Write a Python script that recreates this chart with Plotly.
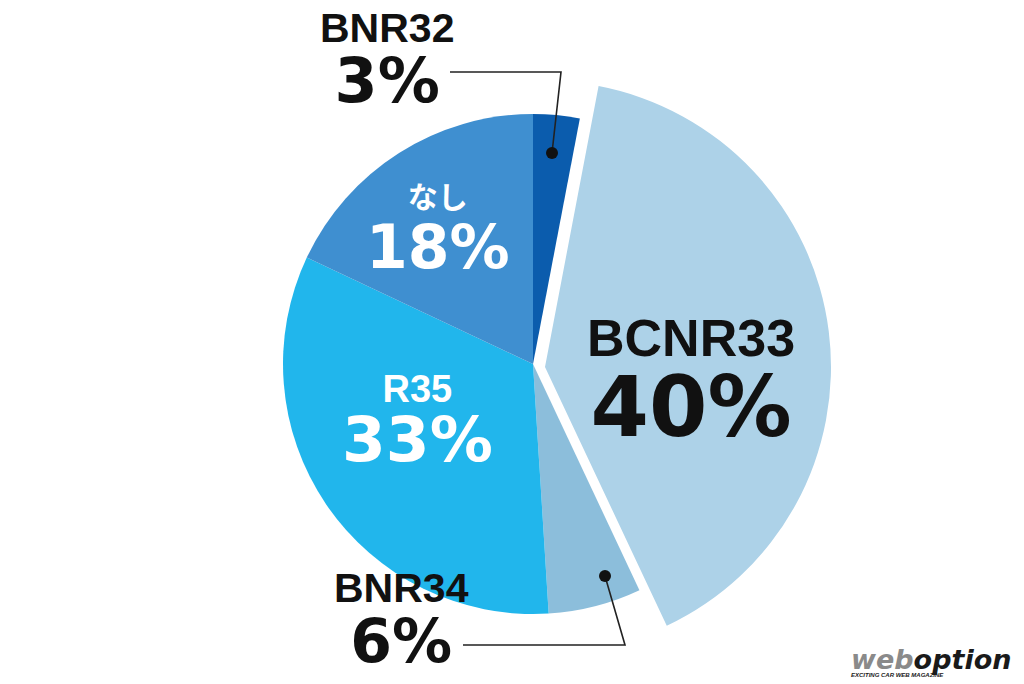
import plotly.graph_objects as go

# ---- data ----
labels = ["BNR32", "BCNR33", "BNR34", "R35", "なし"]
values = [3, 40, 6, 33, 18]
colors = ["#0b5cad", "#add2e8", "#8cbedb", "#21b6ec", "#3f8fd0"]
pulled = "BCNR33"

W, H = 1024, 684


def px(x):
    return x / W


def py(y):
    return 1 - y / H


TRANSPARENT = "rgba(0,0,0,0)"

base_colors = [TRANSPARENT if l == pulled else c for l, c in zip(labels, colors)]
pull_colors = [c if l == pulled else TRANSPARENT for l, c in zip(labels, colors)]

fig = go.Figure()

# main pie (all slices except the pulled one)
cx, cy, r = 533, 364, 250
fig.add_trace(go.Pie(
    labels=labels, values=values, sort=False, direction="clockwise", rotation=0,
    marker=dict(colors=base_colors, line=dict(width=0)),
    textinfo="none", hoverinfo="label+percent", showlegend=False,
    domain=dict(x=[px(cx - r), px(cx + r)], y=[py(cy + r), py(cy - r)]),
))

# pulled-out, enlarged slice
cx2, cy2, r2 = 545, 367, 286
fig.add_trace(go.Pie(
    labels=labels, values=values, sort=False, direction="clockwise", rotation=0,
    marker=dict(colors=pull_colors, line=dict(width=0)),
    textinfo="none", hoverinfo="skip", showlegend=False,
    domain=dict(x=[px(cx2 - r2), px(cx2 + r2)], y=[py(cy2 + r2), py(cy2 - r2)]),
))

NAME_FONT = "Liberation Sans"
NUM_FONT = "DejaVu Sans"

# label placement: (x, y of block centre, name size, pct size, line base size, color)
placement = {
    "BNR32": (387, 61, 41, 62, 46, "#111111"),
    "BCNR33": (691, 382, 52, 84, 61.5, "#111111"),
    "BNR34": (401, 620, 41, 60, 46, "#111111"),
    "R35": (417, 422, 38, 63, 45.5, "#ffffff"),
    "なし": (438, 228, 30, 60, 46, "#ffffff"),
}

annotations = []
for lab, val in zip(labels, values):
    x, y, ns, vs, base, col = placement[lab]
    name_font = "Noto Sans CJK JP" if lab == "なし" else NAME_FONT
    text = (
        f"<span style='font-family:{name_font};font-size:{ns}px'><b>{lab}</b></span>"
        f"<br><span style='font-family:{NUM_FONT};font-size:{vs}px'><b>{val}%</b></span>"
    )
    annotations.append(dict(
        x=px(x), y=py(y), xref="paper", yref="paper", text=text,
        showarrow=False, xanchor="center", yanchor="middle", align="center",
        font=dict(family=NUM_FONT, size=base, color=col),
    ))

# logo
annotations.append(dict(
    x=px(1013), y=py(661), xref="paper", yref="paper",
    text=(
        "<span style='font-family:DejaVu Sans;font-size:27px'><b><i>"
        "<span style='color:#8a8a8a'>web</span>option</i></b></span>"
        "<br><b><i>EXCITING CAR WEB MAGAZINE</i></b>"
    ),
    showarrow=False, xanchor="right", yanchor="middle", align="left",
    font=dict(family="Liberation Sans", size=6, color="#1a1a1a"),
))

line_style = dict(color="#222222", width=1.6)
shapes = [
    # BNR32 leader
    dict(type="path", xref="paper", yref="paper",
         path=f"M {px(552)},{py(153)} L {px(561)},{py(72)} L {px(450)},{py(72)}",
         line=line_style),
    dict(type="circle", xref="paper", yref="paper",
         x0=px(546), x1=px(558), y0=py(159), y1=py(147),
         fillcolor="#111111", line=dict(width=0)),
    # BNR34 leader
    dict(type="path", xref="paper", yref="paper",
         path=f"M {px(605)},{py(576)} L {px(625)},{py(645)} L {px(463)},{py(645)}",
         line=line_style),
    dict(type="circle", xref="paper", yref="paper",
         x0=px(599), x1=px(611), y0=py(582), y1=py(570),
         fillcolor="#111111", line=dict(width=0)),
]

fig.update_layout(
    width=W, height=H,
    margin=dict(l=0, r=0, t=0, b=0),
    paper_bgcolor="white", plot_bgcolor="white",
    annotations=annotations, shapes=shapes,
    showlegend=False,
)

# remove the default page margin so the figure fills the window exactly
fig.write_html(
    "out.html",
    config={"displayModeBar": False},
    post_script="document.body.style.margin='0px';document.body.style.overflow='hidden';",
)
